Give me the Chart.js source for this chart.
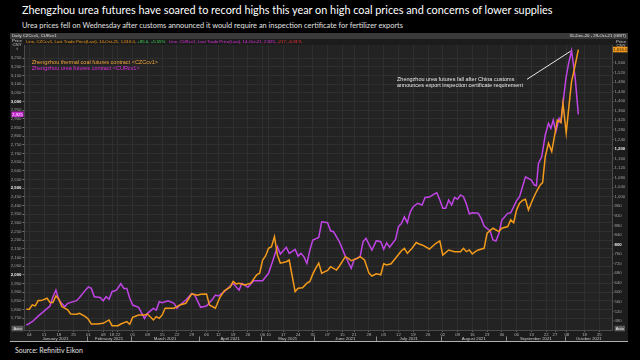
<!DOCTYPE html>
<html>
<head>
<meta charset="utf-8">
<script src="https://cdn.jsdelivr.net/npm/chart.js@4.4.1/dist/chart.umd.min.js"></script>
<style>
  html, body { margin: 0; padding: 0; background: #000; }
  body { width: 640px; height: 360px; position: relative; overflow: hidden; font-family: Lato, "Open Sans", sans-serif; }
  .txt { position: absolute; white-space: nowrap; line-height: 1; }
  #title { left: 22px; top: 5px; color: #fff; font-size: 12px; }
  #subtitle { left: 22px; top: 22px; color: #e0e0e0; font-size: 8px; }
  #source { left: 15px; top: 347px; color: #e0e0e0; font-size: 7px; }
  #chart { position: absolute; left: 10px; top: 33px; }
</style>
</head>
<body>
<div id="title" class="txt">Zhengzhou urea futures have soared to record highs this year on high coal prices and concerns of lower supplies</div>
<div id="subtitle" class="txt">Urea prices fell on Wednesday after customs announced it would require an inspection certificate for fertilizer exports</div>
<canvas id="chart" width="618" height="309"></canvas>
<div id="source" class="txt">Source: Refinitiv Eikon</div>
<script>
// x = trading-day index, 0 = 04-Jan-2021 (Chinese exchange calendar)
const coalDays = [-1, 0, 1, 2, 3, 4, 6, 7, 8, 9, 10, 11, 13, 14, 16, 17, 19, 20, 21, 23, 25, 27, 28, 30, 31, 33, 34, 35, 37, 39,
  40, 42, 43, 44, 45, 46, 49, 51, 53, 55, 57, 58, 60, 61, 63, 64.5, 66, 68, 69, 70, 71, 73, 75, 77, 78, 79, 80, 81, 82, 83,
  84, 85, 87, 88, 90, 91, 92.5, 94, 95, 96, 97, 98, 99, 101, 102, 104, 105, 107, 108, 109, 111, 112, 113.5, 115, 116, 117.5, 119, 120, 121, 122.5,
  124, 126, 127, 128, 129.6, 131, 132, 133, 135.5, 137.7, 139, 140, 142, 144, 146, 147, 148, 149, 150, 151, 152, 154, 155, 156, 157, 159, 160, 162, 163, 164,
  165, 166, 167, 168, 169, 170, 171, 172, 173, 173.8, 174.7, 175.8, 176.9, 178, 178.8, 180, 180.7, 181.8, 182.7, 183.6, 184.5, 185.9];
const coalPrice = [529, 529, 547, 543, 565, 565, 575, 557, 557, 585, 571, 540, 526, 509, 508, 512, 498, 487, 467, 467, 470, 484, 460, 460, 467, 477, 466, 495, 505, 505,
  509, 484, 498, 491, 505, 533, 533, 547, 554, 593, 588, 592, 593, 547, 533, 578, 606, 621, 645, 635, 638, 631, 638, 673, 680, 735, 752, 784, 791, 833,
  756, 722, 728, 735, 603, 617, 619, 638, 645, 677, 701, 722, 680, 691, 707, 693, 710, 749, 742, 732, 742, 749, 735, 680, 668, 677, 673, 719, 714, 719,
  742, 774, 784, 763, 784, 808, 802, 798, 781, 805, 815, 756, 777, 770, 770, 784, 770, 777, 760, 770, 777, 784, 847, 858, 868, 854, 868, 875, 903, 891,
  945, 973, 984, 989, 945, 975, 1003, 1028, 1049, 1059, 1168, 1224, 1189, 1266, 1321, 1310, 1391, 1266, 1377, 1482, 1531, 1616];

const ureaDays = [-1, 1, 3, 5, 7, 8, 9, 10, 12, 13, 16, 17, 19, 20, 21, 22, 24, 25, 26, 27, 28, 29.5, 31, 32, 33, 34, 35, 37, 39, 40,
  42, 43, 44, 45, 47, 49, 50, 51, 53, 55, 56, 58, 60, 62, 63, 64, 66, 68, 69, 71, 72, 74, 76, 79, 81, 82.5, 84, 85, 87, 88,
  90, 91, 92, 93, 94, 95, 96, 98, 99, 101, 102, 103, 105, 107, 109, 110, 112, 113, 114, 116, 117.5, 119, 120, 121, 122, 124, 125, 126, 127, 128,
  129, 130, 131.5, 133, 134, 135.5, 137, 138, 139, 140, 141, 142, 143, 144, 145, 146, 147, 148, 149, 150, 152, 153, 154, 156, 157, 158, 159, 160, 162, 163,
  164, 165, 166, 167, 168, 170, 171, 171.7, 172.4, 173.5, 174.7, 175.8, 176.6, 177.4, 178.3, 179.4, 180, 180.7, 181.7, 182.5, 183.6, 184.8, 185.9];
const ureaPrice = [1709, 1729, 1761, 1790, 1819, 1873, 1911, 1854, 1815, 1835, 1850, 1869, 1911, 1930, 1921, 1873, 1869, 1850, 1873, 1858, 1902, 1911, 1948, 1921, 1921, 1864, 1825, 1812, 1748, 1777,
  1806, 1796, 1844, 1838, 1850, 1835, 1806, 1825, 1854, 1892, 1882, 1812, 1819, 1858, 1882, 1877, 1902, 1935, 1950, 1911, 1950, 1927, 1965, 1965, 2008, 2084, 2161, 2119, 2158, 2123,
  2146, 2107, 2123, 2103, 2065, 2142, 2200, 2215, 2305, 2300, 2253, 2248, 2190, 2107, 2037, 2088, 2103, 2190, 2210, 2142, 2196, 2190, 2146, 2184, 2158, 2204, 2277, 2296, 2334, 2300,
  2363, 2392, 2412, 2402, 2446, 2448, 2465, 2473, 2431, 2383, 2383, 2431, 2402, 2446, 2435, 2460, 2450, 2408, 2350, 2357, 2354, 2325, 2281, 2253, 2200, 2194, 2238, 2315, 2354, 2357,
  2392, 2427, 2450, 2507, 2565, 2546, 2517, 2513, 2642, 2680, 2806, 2873, 2844, 2892, 2825, 2902, 2882, 2989, 3133, 3210, 3292, 3142, 2925];

const tickDays = [0, 5, 10, 15, 20, 25, 28, 30, 35, 40, 45, 50, 55, 60, 64, 69, 74, 79, 81, 86, 91, 96, 101, 106, 110, 115, 120,
  125, 130, 135, 140, 145, 150, 155, 160, 165, 170, 175, 178, 182, 188, 193];
const tickLabels = ['04', '11', '18', '25', '01', '08', '18', '22', '01', '08', '15', '22', '29', '06', '12', '19', '26', '06', '10', '17', '24', '31', '07', '15', '21', '28', '05',
  '12', '19', '26', '02', '09', '16', '23', '30', '06', '13', '22', '27', '08', '18', '25'];
const monthBounds = [-1.8, 19.5, 34.5, 57.5, 78.5, 96.5, 117.5, 139.5, 161.5, 181.5, 197.3];
const monthNames = ['January 2021', 'February 2021', 'March 2021', 'April 2021', 'May 2021', 'June 2021', 'July 2021',
  'August 2021', 'September 2021', 'October 2021'];

const coalName = 'Zhengzhou thermal coal futures contract <CZCcv1>';
const ureaName = 'Zhengzhou urea futures contract <CURcv1>';
const noteLines = ['Zhengzhou urea futures fall after China customs', 'announces export inspection certificate requirement'];

const coalColor = '#f39a1b';
const ureaColor = '#c044e6';
const font = '"Liberation Sans", Arial, sans-serif';

function fitWidth(id, w) {
  const el = document.getElementById(id);
  const s = parseFloat(getComputedStyle(el).fontSize);
  el.style.fontSize = (s * w / el.getBoundingClientRect().width) + 'px';
}
fitWidth('title', 531);
fitWidth('subtitle', 382);
fitWidth('source', 68);

const fmt = (v, d) => v.toLocaleString('en-US', { minimumFractionDigits: d || 0, maximumFractionDigits: d || 0 });

function box(ctx, x0, x1, yc, bg, fg, text) {
  ctx.fillStyle = bg;
  ctx.fillRect(x0, yc - 2.8, x1 - x0, 5.6);
  ctx.fillStyle = fg;
  ctx.textAlign = 'center';
  ctx.textBaseline = 'middle';
  ctx.fillText(text, (x0 + x1) / 2, yc + 0.2);
}

const extras = {
  id: 'extras',
  beforeDraw(chart) {
    const { ctx, chartArea: a } = chart;
    ctx.save();
    ctx.fillStyle = '#1c1c1c';
    ctx.fillRect(0, 0, chart.width, chart.height);
    ctx.fillStyle = '#232323';
    ctx.fillRect(a.left, a.top, a.right - a.left, a.bottom - a.top);
    ctx.restore();
  },
  afterDraw(chart) {
    const { ctx, chartArea: a, scales } = chart;
    const x = scales.x, yL = scales.yL, yR = scales.yR;
    ctx.save();

    // top bar
    ctx.fillStyle = '#3a3a3a';
    ctx.fillRect(0, 0, chart.width, 6);
    ctx.font = '4.3px ' + font;
    ctx.fillStyle = '#e0e0e0';
    ctx.textBaseline = 'middle';
    ctx.textAlign = 'left';
    ctx.fillText('Daily CZCcv1, CURcv1', 2, 3.3);
    ctx.textAlign = 'right';
    ctx.fillText('31-Dec-20 - 29-Oct-21 (GMT)', chart.width - 2, 3.3);

    // legend row
    const cLast = coalPrice[coalPrice.length - 1], cPrev = coalPrice[coalPrice.length - 2];
    const uLast = ureaPrice[ureaPrice.length - 1], uPrev = ureaPrice[ureaPrice.length - 2];
    const parts = [
      ['Line, CZCcv1, Last Trade Price(Last), 14-Oct-21, ' + fmt(cLast, 1) + ', ', coalColor],
      ['+' + fmt(cLast - cPrev, 1) + ', +' + ((cLast - cPrev) / cPrev * 100).toFixed(2) + '%', '#3ddc5a'],
      ['   Line, CURcv1, Last Trade Price(Last), 14-Oct-21, ' + fmt(uLast) + ', ', '#e030e0'],
      [fmt(uLast - uPrev) + ', ' + ((uLast - uPrev) / uPrev * 100).toFixed(2) + '%', '#ff3030']
    ];
    ctx.textAlign = 'left';
    let px = a.left + 2;
    for (const [t, c] of parts) {
      ctx.fillStyle = c;
      ctx.fillText(t, px, 8.7);
      px += ctx.measureText(t).width;
    }

    // axis headers
    ctx.fillStyle = '#d0d0d0';
    ctx.textAlign = 'center';
    ['Price', 'CNY', 't'].forEach((t, i) => ctx.fillText(t, (yL.left + yL.right) / 2, 7.8 + i * 4.2));
    ['Price', 'CNY'].forEach((t, i) => ctx.fillText(t, (yR.left + yR.right) / 2 + 1, 8.7 + i * 4.2));

    // month row
    ctx.strokeStyle = '#888';
    ctx.lineWidth = 1;
    for (let i = 0; i < monthNames.length; i++) {
      const p0 = Math.max(a.left, x.getPixelForValue(monthBounds[i]));
      const p1 = Math.min(a.right, x.getPixelForValue(monthBounds[i + 1]));
      ctx.fillStyle = '#c8c8c8';
      ctx.fillText(monthNames[i], (p0 + p1) / 2, a.bottom + 9.2);
      if (i > 0) {
        const sx = Math.round(p0) + 0.5;
        ctx.beginPath();
        ctx.moveTo(sx, a.bottom + 6.5);
        ctx.lineTo(sx, a.bottom + 11);
        ctx.stroke();
      }
    }
    ctx.strokeStyle = '#b0b0b0';
    ctx.beginPath();
    ctx.moveTo(0, chart.height - 0.5);
    ctx.lineTo(chart.width, chart.height - 0.5);
    ctx.stroke();

    // Auto boxes
    ctx.font = '4px ' + font;
    box(ctx, yL.left + 1.5, yL.right - 0.5, a.bottom - 1.5, '#5a5a5a', '#eee', 'Auto');
    box(ctx, yR.left + 2.5, yR.right - 3, a.bottom - 1.5, '#5a5a5a', '#eee', 'Auto');

    // last value boxes
    ctx.font = '4.3px ' + font;
    box(ctx, yL.left + 1.5, yL.right - 0.5, yL.getPixelForValue(uLast), '#c82ad2', '#f4f4f4', fmt(uLast));
    box(ctx, yR.left + 1, yR.right - 0.5, yR.getPixelForValue(cLast), coalColor, '#1a1a1a', fmt(cLast, 1));

    // series names
    ctx.font = '5.5px ' + font;
    ctx.textAlign = 'left';
    ctx.fillStyle = '#f2a33a';
    ctx.fillText(coalName, a.left + 7.7, a.top + 17.3);
    ctx.fillStyle = '#e02ee0';
    ctx.fillText(ureaName, a.left + 7.7, a.top + 23.3);

    // annotation
    ctx.fillStyle = '#e8e8e8';
    noteLines.forEach((t, i) => ctx.fillText(t, a.left + 373, a.top + 34 + i * 6));
    let pk = 0;
    ureaPrice.forEach((v, i) => { if (v > ureaPrice[pk]) pk = i; });
    ctx.strokeStyle = '#e8e8e8';
    ctx.lineWidth = 1;
    ctx.beginPath();
    ctx.moveTo(a.left + 503, a.top + 34.3);
    ctx.lineTo(x.getPixelForValue(ureaDays[pk]) - 1, yL.getPixelForValue(ureaPrice[pk]) + 0.5);
    ctx.stroke();

    ctx.restore();
  }
};

const keepTicks = (lo, hi, step) => axis => {
  axis.ticks = axis.ticks.filter(t => t.value >= lo && t.value <= hi && Math.abs(t.value / step - Math.round(t.value / step)) < 1e-6);
};

new Chart(document.getElementById('chart'), {
  type: 'line',
  data: {
    datasets: [
      {
        label: coalName,
        data: coalDays.map((d, i) => ({ x: d, y: coalPrice[i] })),
        yAxisID: 'yR',
        borderColor: coalColor,
        borderWidth: 1.5,
        pointRadius: 0,
        tension: 0
      },
      {
        label: ureaName,
        data: ureaDays.map((d, i) => ({ x: d, y: ureaPrice[i] })),
        yAxisID: 'yL',
        borderColor: ureaColor,
        borderWidth: 1.5,
        pointRadius: 0,
        tension: 0
      }
    ]
  },
  options: {
    responsive: false,
    animation: false,
    layout: { padding: { top: 12, left: 0, right: 0, bottom: 0 } },
    plugins: { legend: { display: false }, tooltip: { enabled: false } },
    scales: {
      x: {
        type: 'linear',
        min: -1.8,
        max: 197.3,
        afterBuildTicks: axis => { axis.ticks = tickDays.map(v => ({ value: v })); },
        afterFit: axis => { axis.height = 12; },
        ticks: {
          autoSkip: false,
          maxRotation: 0,
          padding: 0,
          color: '#b0b0b0',
          font: { family: font, size: 4.3 },
          callback: v => tickLabels[tickDays.indexOf(v)]
        },
        grid: { color: '#2f2f2f', tickColor: '#666', tickLength: 2 },
        border: { color: '#4a4a4a' }
      },
      yL: {
        position: 'left',
        min: 1681,
        max: 3325,
        ticks: {
          stepSize: 50,
          padding: 1,
          color: c => (c.tick && c.tick.value % 500 === 0) ? '#f0f0f0' : '#a0a0a0',
          font: c => ({ family: font, size: 4.3, weight: (c.tick && c.tick.value % 500 === 0) ? 'bold' : 'normal' }),
          callback: v => (v >= 1750 && v <= 3250) ? fmt(v) : ''
        },
        afterBuildTicks: keepTicks(1700, 3300, 50),
        afterFit: axis => { axis.width = 14; },
        grid: { color: '#2f2f2f', tickColor: '#777', tickLength: 1.5 },
        border: { color: '#4a4a4a' }
      },
      yR: {
        position: 'right',
        min: 442,
        max: 1635,
        ticks: {
          stepSize: 40,
          padding: 1,
          color: c => (c.tick && c.tick.value % 400 === 0) ? '#f0f0f0' : '#a0a0a0',
          font: c => ({ family: font, size: 4.3, weight: (c.tick && c.tick.value % 400 === 0) ? 'bold' : 'normal' }),
          callback: v => (v >= 480 && v <= 1560) ? fmt(v) : ''
        },
        afterBuildTicks: keepTicks(480, 1560, 40),
        afterFit: axis => { axis.width = 16; },
        grid: { drawOnChartArea: false, tickColor: '#777', tickLength: 1.5 },
        border: { color: '#4a4a4a' }
      }
    }
  },
  plugins: [extras]
});
</script>
</body>
</html>
